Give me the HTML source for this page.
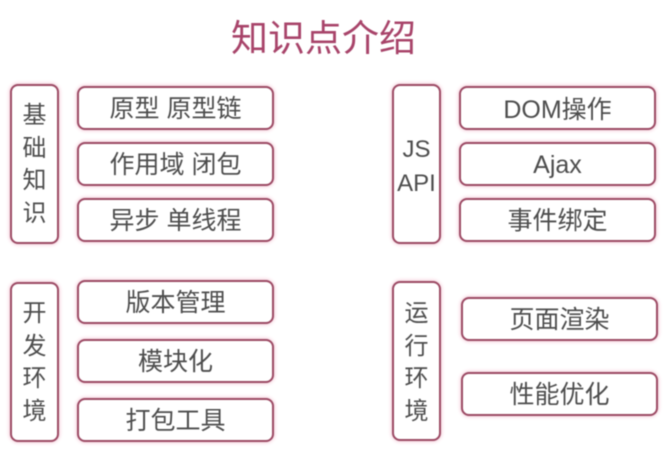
<!DOCTYPE html>
<html><head><meta charset="utf-8"><style>
html,body{margin:0;padding:0;background:#fff}
body{width:665px;height:452px;position:relative;overflow:hidden;font-family:"Liberation Sans","Noto Sans CJK SC",sans-serif;filter:blur(.5px)}
.b{position:absolute;box-sizing:border-box;background:#fff;border:2.5px solid #9c4a64;border-radius:8px;box-shadow:0 0 4px #eeb4c6;color:#4d4d4d;display:flex;align-items:center;justify-content:center;text-align:center;white-space:nowrap}
.s{width:197px;height:44px;font-size:25px;padding-bottom:3px}
.t{width:49px;height:160px;font-size:24px;line-height:32.5px;white-space:normal;padding:2px 10px 0}
#h{position:absolute;left:231px;top:14px;font-size:37px;line-height:50px;color:#a8446a;white-space:nowrap}
</style></head><body>
<div id="h">知识点介绍</div>
<div class="b t" style="left:10px;top:84px">基<br>础<br>知<br>识</div>
<div class="b s" style="left:77px;top:86px">原型 原型链</div>
<div class="b s" style="left:77px;top:142px">作用域 闭包</div>
<div class="b s" style="left:77px;top:198px">异步 单线程</div>
<div class="b t" style="left:10px;top:282px">开<br>发<br>环<br>境</div>
<div class="b s" style="left:77px;top:280px">版本管理</div>
<div class="b s" style="left:77px;top:339px">模块化</div>
<div class="b s" style="left:77px;top:398px">打包工具</div>
<div class="b t" style="left:392px;top:84px;padding:6px 0 0;line-height:34px">JS<br>API</div>
<div class="b s" style="left:459px;top:86px;padding-bottom:0">DOM操作</div>
<div class="b s" style="left:459px;top:142px;padding:3px 0 0">Ajax</div>
<div class="b s" style="left:459px;top:198px">事件绑定</div>
<div class="b t" style="left:392px;top:281px;padding-top:4px">运<br>行<br>环<br>境</div>
<div class="b s" style="left:461px;top:297px">页面渲染</div>
<div class="b s" style="left:461px;top:372px">性能优化</div>
</body></html>
